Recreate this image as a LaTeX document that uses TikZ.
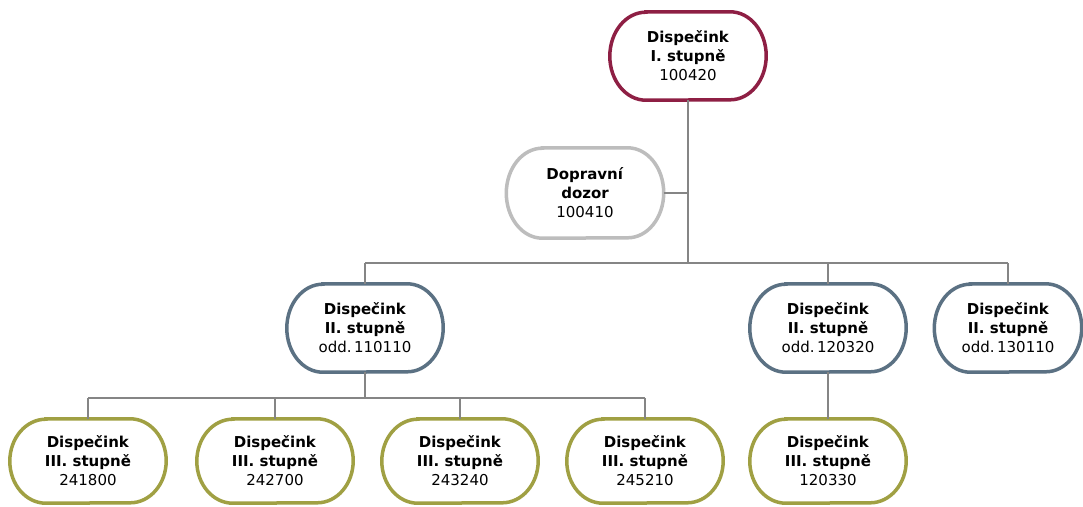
\documentclass[tikz,border=0pt]{standalone}
\usepackage{fontspec}
\setmainfont{DejaVu Sans}
\definecolor{lvlone}{HTML}{8E1F44}
\definecolor{lvlside}{HTML}{BDBDBD}
\definecolor{lvltwo}{HTML}{5B7183}
\definecolor{lvlthree}{HTML}{A0A043}
\definecolor{linkgray}{HTML}{858585}
% pill outline with elliptical ends: node, colour, half height
\newcommand\pillshape[3]{%
  \draw[#2, line width=3.5pt]
    ([xshift=36pt]#1.north west) -- ([xshift=-36pt]#1.north east)
    arc[start angle=90, end angle=-90, x radius=36pt, y radius=#3]
    -- ([xshift=36pt]#1.south west)
    arc[start angle=270, end angle=90, x radius=36pt, y radius=#3] -- cycle;}
\begin{document}
\begin{tikzpicture}[x=1pt,y=-1pt,
  unit/.style={minimum width=156pt, minimum height=88pt, inner sep=0pt, align=center,
    font=\fontsize{15}{19}\selectfont},
  link/.style={draw=linkgray, line width=1.2pt}]
  \useasboundingbox[fill=white] (0,0) rectangle (1083,506);

  % top level and staff unit
  \node[unit] (top) at (688,56) {\textbf{Dispečink}\\\textbf{I. stupně}\\100420};
  \node[unit, minimum width=157pt, minimum height=90pt] (dozor) at (585,193) {\textbf{Dopravní}\\\textbf{dozor}\\100410};

  % second level
  \node[unit] (b1) at (365,328) {\textbf{Dispečink}\\\textbf{II. stupně}\\odd.\,110110};
  \node[unit] (b2) at (828,328) {\textbf{Dispečink}\\\textbf{II. stupně}\\odd.\,120320};
  \node[unit, minimum width=147pt] (b3) at (1008,328) {\textbf{Dispečink}\\\textbf{II. stupně}\\odd.\,130110};

  % third level
  \node[unit, minimum height=84pt] (c1) at (88,461) {\textbf{Dispečink}\\\textbf{III. stupně}\\241800};
  \node[unit, minimum height=84pt] (c2) at (275,461) {\textbf{Dispečink}\\\textbf{III. stupně}\\242700};
  \node[unit, minimum height=84pt] (c3) at (460,461) {\textbf{Dispečink}\\\textbf{III. stupně}\\243240};
  \node[unit, minimum height=84pt] (c4) at (645,461) {\textbf{Dispečink}\\\textbf{III. stupně}\\245210};
  \node[unit, minimum height=84pt] (c5) at (828,461) {\textbf{Dispečink}\\\textbf{III. stupně}\\120330};

  % outlines
  \pillshape{top}{lvlone}{44pt}
  \pillshape{dozor}{lvlside}{45pt}
  \foreach \n in {b1,b2,b3} {\pillshape{\n}{lvltwo}{44pt}}
  \foreach \n in {c1,c2,c3,c4,c5} {\pillshape{\n}{lvlthree}{42pt}}

  % junction points
  \coordinate (trunk) at (top.south |- 0,263);
  \coordinate (sub) at (b1.south |- 0,398);

  % connectors
  \draw[link] (top.south) -- (trunk);
  \draw[link] (dozor.east) -- (top.south |- dozor.east);
  \draw[link] (b1.north |- trunk) -- (b3.north |- trunk);
  \draw[link] (b1.north |- trunk) -- (b1.north);
  \draw[link] (b2.north |- trunk) -- (b2.north);
  \draw[link] (b3.north |- trunk) -- (b3.north);
  \draw[link] (b1.south) -- (sub);
  \draw[link] (c1.north |- sub) -- (c4.north |- sub);
  \foreach \n in {c1,c2,c3,c4} \draw[link] (\n.north |- sub) -- (\n.north);
  \draw[link] (b2.south) -- (c5.north);
\end{tikzpicture}
\end{document}
